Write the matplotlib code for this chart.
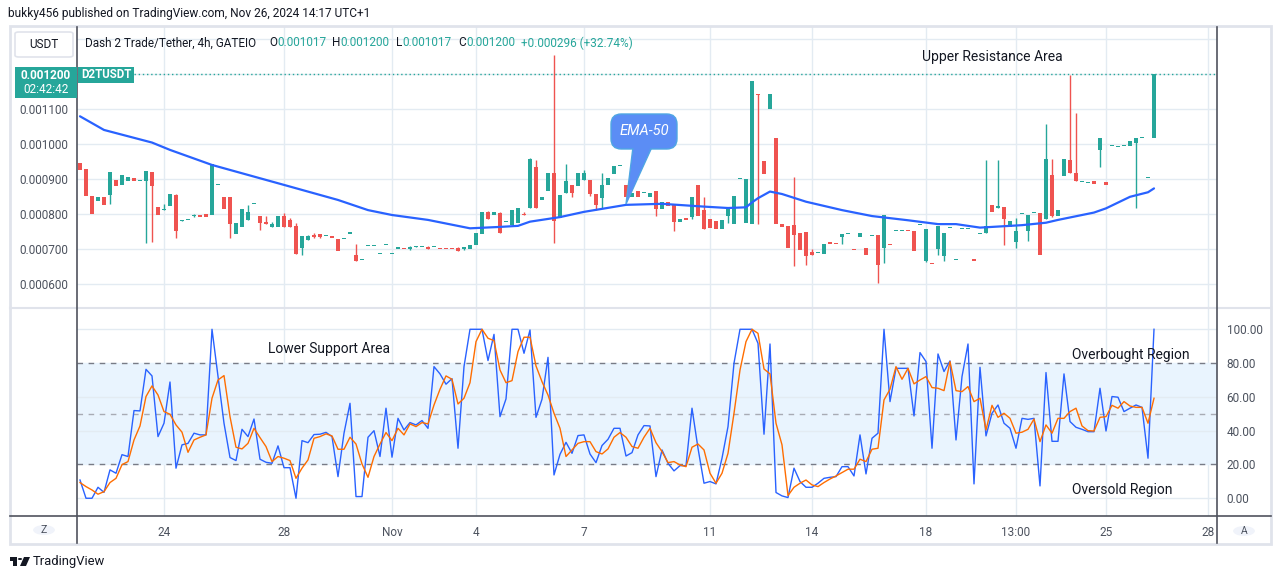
import matplotlib
matplotlib.use("Agg")
import matplotlib.pyplot as plt
from matplotlib.patches import Rectangle, FancyBboxPatch, Polygon, Circle
from matplotlib.lines import Line2D

plt.rcParams['font.family'] = ['Roboto', 'DejaVu Sans']

# ---------------- data (4h candles, index based) ----------------
opens = [0.000947, 0.000930, 0.000852, 0.000839, 0.000850, 0.000855, 0.000898, 0.000885, 0.000896, 0.000904,
         0.000896, 0.000896, 0.000921, 0.000821, 0.000812, 0.000825, 0.000855, 0.000780, 0.000783, 0.000796,
         0.000797, 0.000801, 0.000799, 0.000883, 0.000850, 0.000850, 0.000745, 0.000765, 0.000785, 0.000829,
         0.000795, 0.000778, 0.000765, 0.000765, 0.000795, 0.000784, 0.000767, 0.000705, 0.000728, 0.000742,
         0.000744, 0.000738, 0.000738, 0.000730, 0.000729, 0.000745, 0.000684, 0.000669, 0.000710, 0.000710,
         0.000686, 0.000712, 0.000686, 0.000701, 0.000704, 0.000702, 0.000706, 0.000707, 0.000705, 0.000706,
         0.000704, 0.000703, 0.000704, 0.000705, 0.000701, 0.000700, 0.000711, 0.000745, 0.000807, 0.000799,
         0.000803, 0.000779, 0.000770, 0.000774, 0.000802, 0.000819, 0.000935, 0.000840, 0.000868, 0.000918,
         0.000790, 0.000860, 0.000884, 0.000882, 0.000897, 0.000898, 0.000858, 0.000848, 0.000883, 0.000916,
         0.000937, 0.000884, 0.000849, 0.000867, 0.000861, 0.000850, 0.000867, 0.000814, 0.000834, 0.000830,
         0.000779, 0.000786, 0.000793, 0.000884, 0.000813, 0.000787, 0.000781, 0.000759, 0.000795, 0.000771,
         0.000900, 0.000776, 0.000771, 0.001145, 0.000952, 0.001101, 0.001018, 0.000773, 0.000768, 0.000770,
         0.000748, 0.000750, 0.000691, 0.000690, 0.000688, 0.000721, 0.000718, 0.000736, 0.000744, 0.000701,
         0.000736, 0.000704, 0.000739, 0.000741, 0.000705, 0.000713, 0.000752, 0.000752, 0.000753, 0.000752,
         0.000770, 0.000668, 0.000660, 0.000700, 0.000681, 0.000760, 0.000670, 0.000757, 0.000757, 0.000671,
         0.000744, 0.000746, 0.000827, 0.000817, 0.000820, 0.000765, 0.000720, 0.000800, 0.000751, 0.000803,
         0.000803, 0.000788, 0.000912, 0.000795, 0.000910, 0.000955, 0.000917, 0.000891, 0.000889, 0.000894,
         0.000985, 0.000892, 0.000995, 0.000992, 0.000996, 0.000996, 0.001005, 0.001017, 0.000904, 0.001017]
closes = [0.000927, 0.000851, 0.000801, 0.000850, 0.000828, 0.000921, 0.000881, 0.000912, 0.000907, 0.000896,
          0.000898, 0.000924, 0.000881, 0.000799, 0.000813, 0.000858, 0.000753, 0.000782, 0.000784, 0.000797,
          0.000793, 0.000793, 0.000944, 0.000884, 0.000816, 0.000771, 0.000775, 0.000815, 0.000807, 0.000830,
          0.000775, 0.000772, 0.000772, 0.000795, 0.000765, 0.000765, 0.000687, 0.000738, 0.000738, 0.000736,
          0.000736, 0.000739, 0.000733, 0.000696, 0.000730, 0.000750, 0.000668, 0.000670, 0.000711, 0.000711,
          0.000687, 0.000713, 0.000687, 0.000707, 0.000700, 0.000704, 0.000707, 0.000708, 0.000702, 0.000707,
          0.000700, 0.000700, 0.000700, 0.000694, 0.000708, 0.000711, 0.000746, 0.000808, 0.000788, 0.000807,
          0.000748, 0.000781, 0.000813, 0.000818, 0.000799, 0.000959, 0.000819, 0.000850, 0.000918, 0.000782,
          0.000854, 0.000895, 0.000860, 0.000918, 0.000918, 0.000857, 0.000828, 0.000884, 0.000904, 0.000938,
          0.000938, 0.000849, 0.000861, 0.000849, 0.000864, 0.000862, 0.000814, 0.000834, 0.000825, 0.000778,
          0.000787, 0.000785, 0.000850, 0.000796, 0.000759, 0.000761, 0.000759, 0.000784, 0.000814, 0.000853,
          0.000901, 0.000901, 0.001181, 0.001141, 0.000916, 0.001144, 0.000771, 0.000765, 0.000705, 0.000742,
          0.000699, 0.000682, 0.000685, 0.000691, 0.000715, 0.000714, 0.000716, 0.000744, 0.000745, 0.000699,
          0.000747, 0.000685, 0.000740, 0.000656, 0.000798, 0.000711, 0.000753, 0.000753, 0.000751, 0.000696,
          0.000771, 0.000758, 0.000658, 0.000767, 0.000746, 0.000761, 0.000671, 0.000758, 0.000758, 0.000667,
          0.000745, 0.000767, 0.000808, 0.000824, 0.000788, 0.000780, 0.000753, 0.000801, 0.000798, 0.000804,
          0.000685, 0.000958, 0.000795, 0.000812, 0.000958, 0.000917, 0.000896, 0.000892, 0.000890, 0.000887,
          0.001018, 0.000885, 0.000996, 0.000993, 0.000997, 0.001010, 0.001018, 0.001018, 0.000905, 0.001200]
# explicit wick extremes where visible (others: wick hidden inside body)
highs = {5: 0.000921, 14: 0.000829, 16: 0.000858, 17: 0.000784, 19: 0.000800, 28: 0.000827, 31: 0.000795,
         32: 0.000778, 34: 0.000803, 35: 0.000790, 36: 0.000774, 38: 0.000741, 39: 0.000746, 46: 0.000715,
         55: 0.000709, 56: 0.000709, 58: 0.000710, 63: 0.000708, 68: 0.000810, 70: 0.000807, 74: 0.000807,
         75: 0.000962, 76: 0.000955, 79: 0.001255, 81: 0.000944, 84: 0.000927, 87: 0.000918, 104: 0.000850,
         119: 0.000907, 122: 0.000700, 151: 0.000955, 153: 0.000955, 156: 0.000790, 161: 0.001058,
         162: 0.000958, 165: 0.001198, 166: 0.001088}
lows = {5: 0.000830, 11: 0.000719, 12: 0.000722, 16: 0.000733, 19: 0.000792, 25: 0.000731, 30: 0.000756,
        37: 0.000684, 39: 0.000731, 40: 0.000731, 55: 0.000698, 64: 0.000697, 79: 0.000719, 82: 0.000849,
        85: 0.000851, 86: 0.000811, 87: 0.000819, 96: 0.000795, 99: 0.000751, 102: 0.000787, 108: 0.000774,
        113: 0.000771, 119: 0.000653, 121: 0.000656, 127: 0.000716, 133: 0.000603, 134: 0.000662,
        141: 0.000663, 143: 0.000684, 144: 0.000668, 154: 0.000711, 156: 0.000705, 158: 0.000723,
        162: 0.000791, 170: 0.000935, 176: 0.000817}

# EMA-50 read at selected candles
ema_idx = [0, 4, 12, 15, 22, 26, 34, 43, 48, 52, 58, 65, 70, 73, 75, 80, 84, 91, 97, 104,
           108, 111, 112, 113, 115, 117, 121, 127, 132, 138, 143, 146, 150, 157, 161, 163, 169, 171, 175, 178, 179]
ema_val = [0.001080, 0.001041, 0.001005, 0.000984, 0.000941, 0.000922, 0.000884, 0.000841, 0.000812, 0.000798,
           0.000784, 0.000760, 0.000764, 0.000767, 0.000779, 0.000792, 0.000807, 0.000827, 0.000830, 0.000822,
           0.000818, 0.000820, 0.000834, 0.000846, 0.000865, 0.000858, 0.000836, 0.000812, 0.000795, 0.000783,
           0.000772, 0.000772, 0.000762, 0.000769, 0.000776, 0.000784, 0.000805, 0.000817, 0.000850, 0.000863, 0.000874]

# Stochastic RSI
stoch_k = [10.8, 0, 0, 6.5, 3.5, 16.8, 14.8, 25.8, 24.7, 51.9, 51.7, 76.3, 72.4, 36.5, 44.4, 68.8, 17.8, 31.6, 32.5, 38.5,
           37.5, 37.5, 100, 72, 44.4, 24.1, 22.3, 40.8, 36.5, 46.9, 23.1, 21.3, 20.7, 31, 18.1, 18.1, 0, 34.1, 32.9, 37.7,
           37.9, 39, 36.5, 12.8, 38.5, 56.2, 1, 1, 36.1, 40, 24.7, 53.3, 24.3, 47.3, 40.4, 44.8, 43.4, 46, 41.4, 77.9,
           73.6, 67.5, 70.8, 29.6, 77.9, 100, 100, 100, 81.5, 97, 48.3, 58.8, 100, 100, 85.8, 99.6, 47.9, 58.6, 83.4, 13.8,
           26, 33.1, 26.6, 37.1, 37.5, 26.2, 21.1, 31.2, 34.9, 41.4, 41.4, 25, 27, 37.5, 43, 42.8, 12.8, 28.6, 20.7, 16.2,
           19.3, 19.3, 53.3, 29.6, 8.9, 9.9, 8.5, 23.7, 42.4, 79.9, 100, 100, 100, 91.7, 37.9, 91.3, 3.4, 1.4, 0.4, 17.8,
           9.9, 6.5, 6.5, 8.9, 11.8, 12.4, 12.8, 18.7, 18.7, 13.2, 37.5, 14.4, 35.5, 38.5, 100, 57.2, 76.9, 76.9, 76.9, 48.7,
           86.2, 80.9, 29.6, 85.4, 75, 81.3, 34.5, 72, 91.3, 8.5, 77.5, 36.9, 50.3, 55.2, 44.4, 41.4, 29.6, 47.3, 46.7, 47.3,
           7.3, 74.4, 33.7, 33.7, 73.6, 45.4, 42, 40.8, 39.4, 39.4, 65.1, 39.8, 60.2, 59.8, 51.3, 53.3, 55.2, 53.8, 23.7, 100]
stoch_d = [9.3, 6.9, 4.9, 2.4, 3.9, 9.3, 11.8, 19.9, 21.7, 34.5, 42.8, 60.2, 66.5, 61.1, 51.3, 49.7, 43.4, 39.1, 27.2, 34.5,
           36.1, 37.5, 59.2, 70, 72.6, 48.3, 30.2, 29.2, 32.5, 41.4, 35.9, 30.6, 21.7, 24.7, 23.7, 22.3, 11.8, 17.8, 22.7, 35.5,
           36.5, 38.1, 36.9, 29, 29, 36.1, 32.1, 20.3, 12.4, 24.7, 32.1, 38.9, 34.1, 41.4, 37.5, 44, 42.4, 44.8, 44, 55.2,
           64.5, 72.4, 70.4, 55.8, 59.2, 68.4, 92.7, 100, 94.7, 93.3, 75.9, 68.4, 69.6, 86.8, 95.3, 95.3, 78.3, 69, 61.1, 50.3,
           41.4, 24.7, 28.6, 32.5, 33.5, 33.5, 27.6, 26.2, 29.2, 36.1, 38.9, 36.1, 30.6, 29.6, 36.1, 41.4, 32.9, 27.6, 21.1, 21.7,
           19.7, 18.7, 30.2, 32.1, 28.6, 14.8, 8.9, 14.8, 26.6, 50.3, 75.9, 92.7, 100, 97.6, 76.5, 73.6, 44.4, 31.6, 1.6, 6.5,
           8.9, 10.8, 7.9, 6.9, 9.3, 11.4, 13.2, 15.2, 17.2, 17.2, 23.1, 21.7, 29, 29.6, 58.2, 64.5, 77.9, 70.4, 76.9, 67.7,
           70, 72, 65.5, 65.1, 63.7, 80.9, 63.7, 63.1, 66.1, 57.2, 59.2, 40.4, 55, 47.9, 50.3, 47.3, 38.5, 39.1, 40.8, 46.9,
           33.5, 43.4, 38.5, 47.3, 47.3, 51.3, 53.3, 42.8, 40, 39.8, 47.9, 48.3, 55, 53.3, 57.2, 54.6, 53.8, 53.8, 44.4, 59.2]

tick_idx = [14, 34, 52, 66, 84, 105, 122, 141, 156, 171, 188]
tick_lbl = ['24', '28', 'Nov', '4', '7', '11', '14', '18', '13:00', '25', '28']
price_ticks = [0.0006, 0.0007, 0.0008, 0.0009, 0.0010, 0.0011]
price_grid = [0.0006, 0.0007, 0.0008, 0.0009, 0.0010, 0.0011, 0.0012, 0.0013]
osc_ticks = [0, 20, 40, 60, 80, 100]

# ---------------- styling ----------------
W, H = 1281, 579
GREEN, RED = '#26a69a', '#ef5350'
GRID = '#e3ebf2'
TXT = '#131722'
AX_TXT = '#4c525e'
FRAME = '#e0e3eb'
DARK = '#50535e'

fig = plt.figure(figsize=(W / 100, H / 100), dpi=100)
fig.patch.set_facecolor('white')


def fx(x):
    return x / W


def fy(y):
    return 1 - y / H


ax1 = fig.add_axes([fx(77), fy(307), 1140 / W, 280 / H])
ax2 = fig.add_axes([fx(77), fy(516), 1140 / W, 208 / H])
for ax in (ax1, ax2):
    for s in ax.spines.values():
        s.set_visible(False)
    ax.set_xlim(-0.5, 189.5)
    ax.set_facecolor('white')
    for t in tick_idx:
        ax.axvline(t, color=GRID, lw=1, zorder=0)

# ---- price pane ----
ax1.set_ylim(0.0005352, 0.0013351)
for g in price_grid:
    ax1.axhline(g, color=GRID, lw=1, zorder=0)

n = len(opens)
for i in range(n):
    o, c = opens[i], closes[i]
    col = GREEN if c >= o else RED
    lo, hi = min(o, c), max(o, c)
    h = highs.get(i, hi)
    l = lows.get(i, lo)
    if h > hi or l < lo:
        ax1.vlines(i, l, h, color=col, lw=1.0, zorder=2)
    body = max(hi - lo, 3.2e-6)
    ax1.add_patch(Rectangle((i - 0.4, lo), 0.8, body, facecolor=col, edgecolor='none', zorder=3))

ax1.plot(ema_idx, ema_val, color='#2962ff', lw=1.6, zorder=4, solid_capstyle='round')
ax1.axhline(closes[-1], xmin=(134 - 77) / 1140, xmax=1, color=GREEN, lw=1, ls=(0, (1, 2)), zorder=1)

ax1.set_xticks([])
ax1.set_yticks(price_ticks)
ax1.set_yticklabels([f'{v:.6f}' for v in price_ticks], fontsize=8.5, color=AX_TXT)
ax1.tick_params(axis='y', length=0, pad=6)

# ---- stochastic RSI pane ----
ax2.set_ylim(-10.5, 112.6)
ax2.axhspan(20, 80, color='#e9f4fe', zorder=0)
for g in osc_ticks:
    if g not in (20, 80):
        ax2.axhline(g, color=GRID, lw=1, zorder=0.5)
ax2.axhline(80, color='#787b86', lw=1, ls=(0, (4, 4)), zorder=1)
ax2.axhline(20, color='#787b86', lw=1, ls=(0, (4, 4)), zorder=1)
ax2.axhline(50, color='#a8abb4', lw=1, ls=(0, (4, 4)), zorder=1)
xs = list(range(len(stoch_k)))
ax2.plot(xs, stoch_k, color='#2962ff', lw=1.0, zorder=3)
ax2.plot(xs, stoch_d, color='#ff6d00', lw=1.0, zorder=3)
ax2.yaxis.tick_right()
ax2.set_yticks(osc_ticks)
ax2.set_yticklabels([f'{v:.2f}' for v in osc_ticks], fontsize=8.5, color=AX_TXT)
ax2.tick_params(axis='y', length=0, pad=7)
ax2.set_xticks(tick_idx)
ax2.set_xticklabels(tick_lbl, fontsize=8.5, color=AX_TXT)
ax2.tick_params(axis='x', length=0, pad=7)

# ---------------- frame & separators ----------------
def fline(x0, y0, x1, y1, color, lw=1.0, z=10, **kw):
    fig.add_artist(Line2D([fx(x0), fx(x1)], [fy(y0), fy(y1)], color=color, lw=lw, zorder=z, **kw))

fig.add_artist(Rectangle((fx(10), fy(544)), fx(1271) - fx(10), fy(26) - fy(544), transform=fig.transFigure,
                         fill=False, edgecolor=FRAME, lw=2, zorder=9))
fline(10, 307.5, 1271, 307.5, FRAME, lw=1.5)
fline(10, 516, 1271, 516, DARK, lw=1.2)
fline(77, 27, 77, 543, DARK, lw=1.2)
fline(1217, 27, 1217, 543, DARK, lw=1.2)

# ---------------- texts ----------------
fig.text(fx(8), fy(14), 'bukky456 published on TradingView.com, Nov 26, 2024 14:17 UTC+1',
         fontsize=8.6, color=TXT, va='center', ha='left')

hdr_y = fy(43)
fig.text(fx(85), hdr_y, 'Dash 2 Trade/Tether, 4h, GATEIO', fontsize=8.5, color=TXT, va='center')
for lab, xl, val, xv in [('O', 269, '0.001017', 277), ('H', 332, '0.001200', 340),
                         ('L', 396, '0.001017', 402), ('C', 458, '0.001200', 466)]:
    fig.text(fx(xl), hdr_y, lab, fontsize=8.5, color=TXT, va='center')
    fig.text(fx(xv), hdr_y, val, fontsize=8.5, color=GREEN, va='center')
fig.text(fx(521), hdr_y, '+0.000296 (+32.74%)', fontsize=8.5, color=GREEN, va='center')

# USDT button
fig.add_artist(FancyBboxPatch((fx(15), fy(57)), fx(73) - fx(15), fy(32) - fy(57), transform=fig.transFigure,
                              boxstyle='round,pad=0,rounding_size=0.003', facecolor='white',
                              edgecolor=FRAME, lw=1.2, zorder=11))
fig.text(fx(44), fy(44.5), 'USDT', fontsize=8.5, color=TXT, ha='center', va='center', zorder=12)

# price tags
fig.add_artist(Rectangle((fx(15), fy(98)), fx(77) - fx(15), fy(67) - fy(98), transform=fig.transFigure,
                         facecolor=GREEN, edgecolor='none', zorder=11))
fig.text(fx(46), fy(75.5), f'{closes[-1]:.6f}', fontsize=8.5, color='white', ha='center', va='center',
         fontweight='bold', zorder=12)
fig.text(fx(46), fy(89.5), '02:42:42', fontsize=8.5, color='white', ha='center', va='center', zorder=12)
fig.add_artist(Rectangle((fx(78), fy(83)), fx(134) - fx(78), fy(67) - fy(83), transform=fig.transFigure,
                         facecolor=GREEN, edgecolor='none', zorder=11))
fig.text(fx(106), fy(75), 'D2TUSDT', fontsize=8.3, color='white', ha='center', va='center',
         fontweight='bold', zorder=12)

# annotations
fig.text(fx(922), fy(57), 'Upper Resistance Area', fontsize=10, color=TXT, va='center', zorder=12)
fig.text(fx(268), fy(349), 'Lower Support Area', fontsize=10, color=TXT, va='center', zorder=12)
fig.text(fx(1072), fy(355), 'Overbought Region', fontsize=10, color=TXT, va='center', zorder=12)
fig.text(fx(1072), fy(490), 'Oversold Region', fontsize=10, color=TXT, va='center', zorder=12)

# EMA-50 callout
CB = '#5b8df5'
fig.add_artist(Polygon([(fx(633), fy(147)), (fx(652), fy(147)), (fx(626), fy(204))], closed=True,
                       transform=fig.transFigure, facecolor=CB, edgecolor='#4fa6e3', lw=1, zorder=12))
fig.add_artist(FancyBboxPatch((fx(611), fy(149)), fx(677) - fx(611), fy(114) - fy(149),
                              transform=fig.transFigure, boxstyle='round,pad=0,rounding_size=0.008',
                              facecolor=CB, edgecolor='#4fa6e3', lw=1, zorder=12, mutation_aspect=2.2))
fig.add_artist(Polygon([(fx(634), fy(146)), (fx(651), fy(146)), (fx(627), fy(202))], closed=True,
                       transform=fig.transFigure, facecolor=CB, edgecolor='none', zorder=13))
fig.text(fx(644), fy(131), 'EMA-50', fontsize=10.5, color='white', style='italic', ha='center', va='center', zorder=14)

# Z / A buttons
fig.add_artist(Circle((fx(44), fy(530)), 0.0085, transform=fig.transFigure, facecolor='#f0f3fa',
                      edgecolor='none', zorder=11))
fig.text(fx(44), fy(530), 'Z', fontsize=7.5, color=AX_TXT, ha='center', va='center', zorder=12)
fig.add_artist(Circle((fx(1244), fy(531)), 0.0085, transform=fig.transFigure, facecolor='#f0f3fa',
                      edgecolor='none', zorder=11))
fig.text(fx(1244), fy(531), 'A', fontsize=7.5, color=AX_TXT, ha='center', va='center', zorder=12)

# footer logo
fig.add_artist(Rectangle((fx(10), fy(561)), fx(17) - fx(10), fy(557) - fy(561), transform=fig.transFigure,
                         facecolor=TXT, edgecolor='none', zorder=12))
fig.add_artist(Rectangle((fx(13), fy(566)), fx(17) - fx(13), fy(557) - fy(566), transform=fig.transFigure,
                         facecolor=TXT, edgecolor='none', zorder=12))
fig.add_artist(Circle((fx(20), fy(559)), 0.0017, transform=fig.transFigure, facecolor=TXT,
                      edgecolor='none', zorder=12))
fig.add_artist(Polygon([(fx(24), fy(557)), (fx(30), fy(557)), (fx(26), fy(566)), (fx(20), fy(566))],
                       closed=True, transform=fig.transFigure, facecolor=TXT, edgecolor='none', zorder=12))
fig.text(fx(33), fy(561.5), 'TradingView', fontsize=9.4, color=TXT, va='center', zorder=12)

fig.savefig('out.png', dpi=100)
